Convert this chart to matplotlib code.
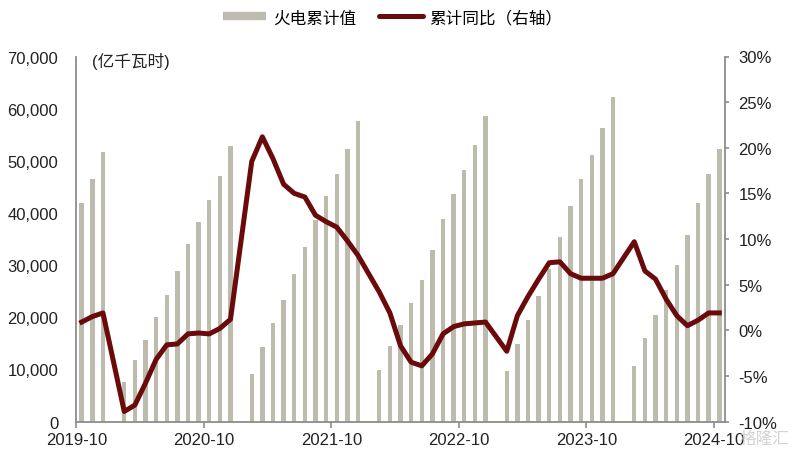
import numpy as np
import matplotlib
matplotlib.use("Agg")
import matplotlib.pyplot as plt
from matplotlib.lines import Line2D

plt.rcParams['font.family'] = ['Liberation Sans', 'Noto Sans CJK SC', 'DejaVu Sans']

nan = np.nan
# monthly, 2019-10 .. 2024-10 (January is not published -> nan)
months = ['2019-10', '2019-11', '2019-12'] + \
    ['%d-%02d' % (y, m) for y in range(2020, 2024) for m in range(1, 13)] + \
    ['2024-%02d' % m for m in range(1, 11)]

# 火电累计值 (亿千瓦时)
thermal_cum = [42000, 46500, 51700,
               nan, 7600, 11800, 15700, 20000, 24300, 28900, 34000, 38300, 42400, 47000, 52800,
               nan, 9200, 14300, 18800, 23300, 28200, 33500, 38700, 43200, 47500, 52200, 57700,
               nan, 9800, 14500, 18500, 22700, 27200, 32900, 38800, 43600, 48200, 53000, 58500,
               nan, 9700, 14800, 19400, 24100, 29300, 35400, 41300, 46500, 51100, 56200, 62300,
               nan, 10700, 16000, 20500, 25200, 30000, 35800, 41900, 47400, 52200]

# 累计同比 (%)
thermal_yoy = [0.9, 1.5, 1.9,
               nan, -8.9, -8.2, -5.8, -3.2, -1.6, -1.5, -0.4, -0.3, -0.4, 0.2, 1.2,
               nan, 18.5, 21.2, 18.8, 16.0, 15.0, 14.6, 12.6, 11.9, 11.3, 9.8, 8.2,
               nan, 4.2, 1.9, -1.7, -3.5, -3.9, -2.6, -0.4, 0.4, 0.7, 0.8, 0.9,
               nan, -2.3, 1.6, 3.7, 5.6, 7.4, 7.5, 6.2, 5.7, 5.7, 5.7, 6.2,
               nan, 9.7, 6.5, 5.6, 3.4, 1.6, 0.5, 1.1, 1.9, 1.9]

tick_labels = ['2019-10', '2020-10', '2021-10', '2022-10', '2023-10', '2024-10']

bar_color = '#BDBBAE'
line_color = '#6B0A0A'
spine_color = '#8C8C8C'
fs = 12

x = np.arange(len(months))
bars = np.array(thermal_cum, dtype=float)
yoy = np.array(thermal_yoy, dtype=float)
ok = ~np.isnan(yoy)

fig = plt.figure(figsize=(8.01, 4.60), dpi=100)
ax = fig.add_axes([0.0954, 0.0815, 0.8092, 0.7935])
ax2 = ax.twinx()

ax.bar(x, np.nan_to_num(bars), width=0.42, color=bar_color, zorder=1)
ax2.plot(x[ok], yoy[ok], color=line_color, lw=3.6, solid_joinstyle='round', zorder=3)

ax.set_xlim(-0.5, len(months) - 0.5)
ax.set_ylim(0, 70000)
ax.set_yticks(np.arange(0, 70001, 10000))
ax.set_yticklabels(['{:,}'.format(v) for v in range(0, 70001, 10000)])
ax2.set_ylim(-10, 30)
ax2.set_yticks(np.arange(-10, 31, 5))
ax2.set_yticklabels(['%d%%' % v for v in range(-10, 31, 5)])

ticks = [months.index(t) - 0.5 for t in tick_labels]
ax.set_xticks(ticks)
ax.set_xticklabels(tick_labels)

for a in (ax, ax2):
    for s in a.spines.values():
        s.set_visible(False)
    a.tick_params(labelsize=fs, colors='#222222')
ax.spines['left'].set_visible(True)
ax.spines['bottom'].set_visible(True)
ax2.spines['right'].set_visible(True)
for s in (ax.spines['left'], ax.spines['bottom'], ax2.spines['right']):
    s.set_color(spine_color)
    s.set_linewidth(1.3)
ax.tick_params(axis='y', length=0, pad=13)
ax.tick_params(axis='x', length=4, width=1.2, color=spine_color, pad=3.5)
ax2.tick_params(axis='y', length=3, width=1.2, color=spine_color, pad=7)
ax.set_zorder(ax2.get_zorder() - 1)
ax.patch.set_visible(True)
ax2.patch.set_visible(False)

ax.text(0.024, 0.988, '(亿千瓦时)', transform=ax.transAxes, fontsize=fs,
        va='center', ha='left', color='#222222')

handles = [Line2D([], [], color=bar_color, lw=6, solid_capstyle='butt'),
           Line2D([], [], color=line_color, lw=3.6, solid_capstyle='round')]
fig.legend(handles, ['火电累计值', '累计同比（右轴）'], loc='center',
           bbox_to_anchor=(0.49, 0.96), ncol=2, frameon=False, fontsize=fs,
           handlelength=2.6, columnspacing=1.4, handletextpad=0.4)

fig.text(0.955, 0.045, '格隆汇', fontsize=12, color='#C8C8C8', ha='center',
         va='center', alpha=0.8)

fig.savefig('out.png', dpi=100)
